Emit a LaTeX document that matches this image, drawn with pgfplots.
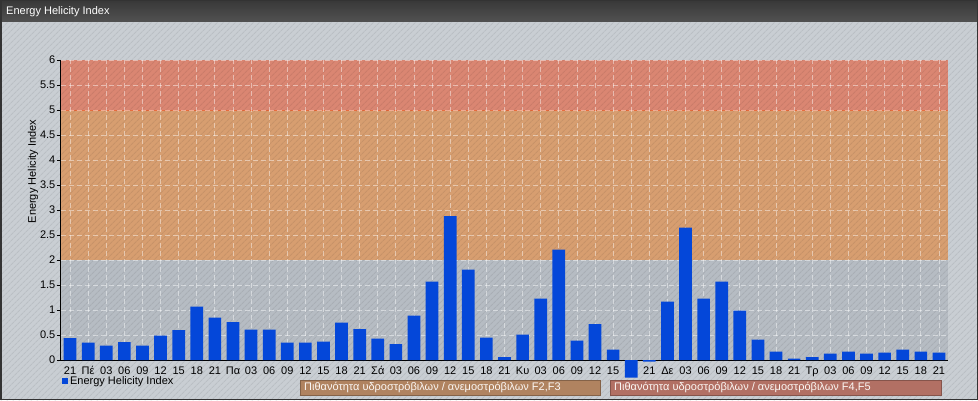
\documentclass[border=0pt]{standalone}
\usepackage{fontspec}
\setmainfont{Liberation Sans}
\usepackage{pgfplots}
\pgfplotsset{compat=1.18}
\usetikzlibrary{patterns.meta}

\definecolor{bgray}{RGB}{201,206,211}
\definecolor{bandgray}{RGB}{182,188,195}
\definecolor{bandorange}{RGB}{215,158,112}
\definecolor{bandred}{RGB}{218,134,114}
\definecolor{barblue}{RGB}{4,71,217}
\definecolor{boxbrown}{RGB}{176,131,96}
\definecolor{boxred}{RGB}{178,112,100}
\definecolor{edgered}{RGB}{232,108,62}

\newcommand{\px}{\fontsize{11}{13}\selectfont}

\begin{document}
\begin{tikzpicture}
\begin{scope}[x=1pt,y=1pt]
\path[use as bounding box] (0,0) rectangle (978,400);
\fill[bgray] (0,0) rectangle (978,400);
\end{scope}

% risk bands
\begin{axis}[
    at={(61pt,40pt)}, anchor=south west,
    scale only axis, width=887pt, height=300pt,
    xmin=-0.5, xmax=48.5, ymin=0, ymax=6,
    hide axis,
]
\addplot[fill=bandgray, draw=none] coordinates {(-0.5,0) (48.5,0) (48.5,2) (-0.5,2)} -- cycle;
\addplot[fill=bandorange, draw=none] coordinates {(-0.5,2) (48.5,2) (48.5,5) (-0.5,5)} -- cycle;
\addplot[fill=bandred, draw=none] coordinates {(-0.5,5) (48.5,5) (48.5,6) (-0.5,6)} -- cycle;
\addplot[draw=edgered, line width=1pt, mark=none] coordinates {(-0.5,5) (48.5,5)};
\end{axis}

\begin{scope}[x=1pt,y=1pt]
\fill[pattern={Lines[angle=45,distance=4pt,line width=1.2pt]}, pattern color=black, fill opacity=0.07] (0,0) rectangle (978,378);
\shade[top color=black!78, bottom color=black!68] (0,378) rectangle (978,400);
\node[anchor=west, text=white, font=\px, inner sep=0pt] at (6,388.5) {Energy Helicity Index};
\end{scope}

\begin{axis}[
    at={(61pt,40pt)}, anchor=south west,
    scale only axis, width=887pt, height=300pt,
    xmin=-0.5, xmax=48.5, ymin=0, ymax=6,
    clip=false,
    axis lines=left,
    axis line style={-, black, line width=1pt},
    tick align=outside,
    major tick length=4pt,
    xtick style={draw=none},
    ytick style={black, line width=0.8pt},
    ytick={0,0.5,...,6},
    xtick={0,...,48},
    xticklabels={21,Πέ,03,06,09,12,15,18,21,Πα,03,06,09,12,15,18,21,Σά,03,06,09,12,15,18,21,Κυ,03,06,09,12,15,{},21,Δε,03,06,09,12,15,18,21,Τρ,03,06,09,12,15,18,21},
    tick label style={font=\px, text=black},
    yticklabel style={inner xsep=1.5pt},
    xticklabel style={inner ysep=2.5pt},
    /pgf/number format/assume math mode=true,
    grid=major,
    major grid style={white, opacity=0.45, dash pattern=on 5pt off 3pt, line width=0.8pt},
    ylabel={Energy Helicity Index},
    ylabel style={at={(axis description cs:-0.0316,0.628)}, anchor=center, font=\px},
    ybar, bar width=12.7pt,
    legend style={at={(axis description cs:0.001,-0.07)}, anchor=west, draw=none, fill=none,
        font=\px, inner sep=0pt, nodes={inner sep=2pt}},
]
\addplot[fill=barblue, draw=none,
    legend image code/.code={\fill[barblue] (0pt,-3pt) rectangle (6pt,3pt);}]
coordinates {
(0,0.44) (1,0.35) (2,0.29) (3,0.36) (4,0.29) (5,0.49) (6,0.60) (7,1.07) (8,0.85) (9,0.76)
(10,0.61) (11,0.61) (12,0.35) (13,0.35) (14,0.37) (15,0.75) (16,0.62) (17,0.43) (18,0.32) (19,0.89)
(20,1.57) (21,2.88) (22,1.81) (23,0.45) (24,0.06) (25,0.51) (26,1.23) (27,2.21) (28,0.39) (29,0.72)
(30,0.21) (31,-0.35) (32,-0.03) (33,1.17) (34,2.65) (35,1.23) (36,1.57) (37,0.99) (38,0.41) (39,0.17)
(40,0.03) (41,0.06) (42,0.13) (43,0.17) (44,0.13) (45,0.15) (46,0.21) (47,0.17) (48,0.15)
};
\addlegendentry{Energy Helicity Index}
\end{axis}

\begin{scope}[x=1pt,y=1pt]
\draw[fill=boxbrown, draw=boxbrown!75!black, line width=1pt] (300,5) rectangle (600,20);
\node[anchor=west, text=white!94!brown, font=\px, inner sep=0pt] at (304,12.5) {Πιθανότητα υδροστρόβιλων / ανεμοστρόβιλων F2,F3};
\draw[fill=boxred, draw=boxred!75!black, line width=1pt] (610,5) rectangle (941,20);
\node[anchor=west, text=white!94!brown, font=\px, inner sep=0pt] at (614,12.5) {Πιθανότητα υδροστρόβιλων / ανεμοστρόβιλων F4,F5};
\draw[black!80, line width=1.5pt] (0.75,0.75) rectangle (977.25,399.25);
\end{scope}
\end{tikzpicture}
\end{document}
